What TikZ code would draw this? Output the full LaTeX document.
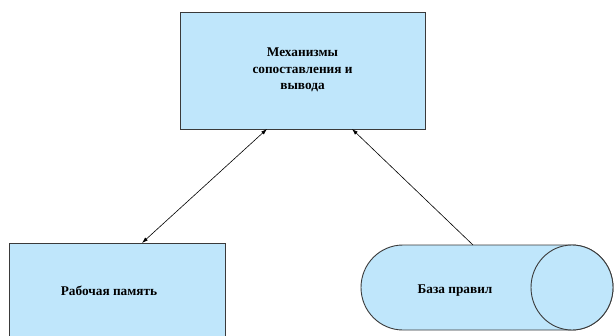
\documentclass[tikz,border=0pt]{standalone}
\usepackage{fontspec}
\setmainfont{Liberation Serif}
\usetikzlibrary{arrows.meta}
\definecolor{boxfill}{HTML}{BFE6FB}
\definecolor{boxline}{HTML}{3A3A3A}
\begin{document}
\begin{tikzpicture}[x=1pt,y=1pt,
  blk/.style={draw=boxline,line width=0.9pt,fill=boxfill},
  lbl/.style={font=\bfseries\fontsize{13.3}{16.5}\selectfont,align=center,inner sep=0pt},
  conn/.style={line width=0.6pt,black}]
\useasboundingbox (0,0) rectangle (615,335);
\begin{scope}
\clip (0,0) rectangle (615,335);
% top box
\draw[blk] (180,206) rectangle (425,323);
\node[lbl] (mech) at (302.5,265) {Механизмы\\сопоставления и\\вывода};
\coordinate (mechL) at (267,206);
\coordinate (mechR) at (352,206);
% left box
\draw[blk] (9,-10) rectangle (225,92);
\node[lbl] (work) at (109,44) {Рабочая память};
\coordinate (workT) at (142,92);
% cylinder
\draw[blk] (403,90) -- (572,90) arc[start angle=90,end angle=-90,x radius=41,y radius=42.5]
  -- (403,5) arc[start angle=270,end angle=90,x radius=42,y radius=42.5] -- cycle;
\draw[blk] (572,47.5) ellipse[x radius=41,y radius=42.5];
\node[lbl] (rules) at (455,44) {База правил};
\coordinate (rulesT) at (473,90);
\end{scope}
% connectors
\draw[conn,{Latex[length=6pt,width=4pt]}-{Latex[length=6pt,width=4pt]}] (mechL) -- (workT);
\draw[conn,-{Latex[length=6pt,width=4pt]}] (rulesT) -- (mechR);
\end{tikzpicture}
\end{document}
